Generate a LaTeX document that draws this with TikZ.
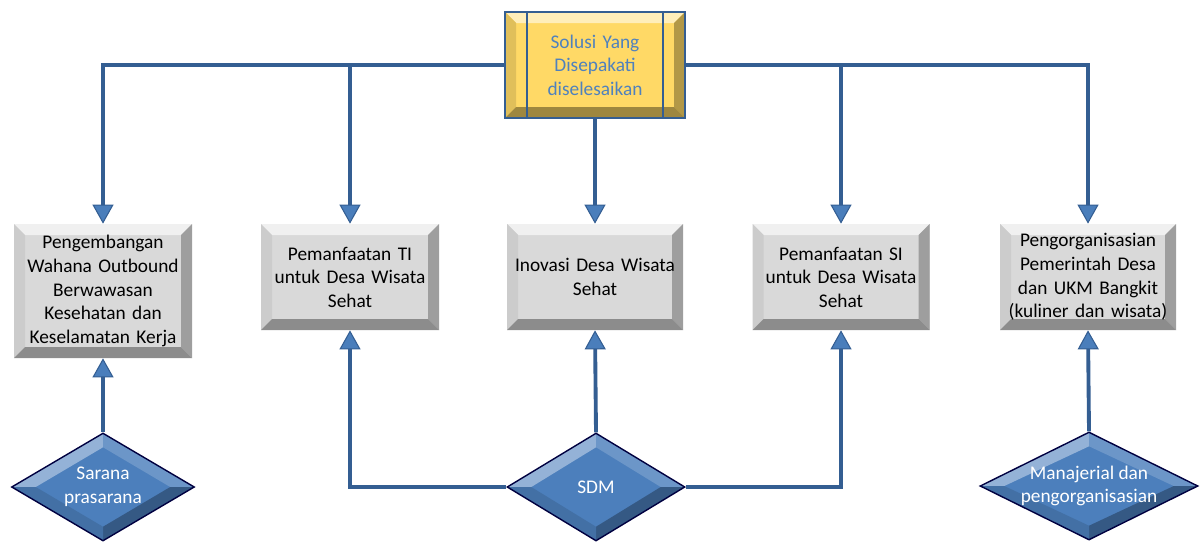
\documentclass[tikz,border=0pt]{standalone}
\usepackage{fontspec}
\setmainfont{Carlito}
\usetikzlibrary{shapes.geometric,arrows.meta}

\definecolor{lineblue}{HTML}{4A7EBB}
\definecolor{linedark}{HTML}{345E92}
\definecolor{textblue}{HTML}{4F81BD}
\definecolor{goldfill}{HTML}{FFD966}
\definecolor{diablue}{HTML}{4C7FBC}

% bevel for rectangles: inset, top, left, right, bottom
\newcommand{\rectbevel}[5]{%
  \fill[#2] (path picture bounding box.north west) -- (path picture bounding box.north east)
    -- ([shift={(-#1,-#1)}]path picture bounding box.north east) -- ([shift={(#1,-#1)}]path picture bounding box.north west) -- cycle;
  \fill[#3] (path picture bounding box.north west) -- (path picture bounding box.south west)
    -- ([shift={(#1,#1)}]path picture bounding box.south west) -- ([shift={(#1,-#1)}]path picture bounding box.north west) -- cycle;
  \fill[#4] (path picture bounding box.north east) -- (path picture bounding box.south east)
    -- ([shift={(-#1,#1)}]path picture bounding box.south east) -- ([shift={(-#1,-#1)}]path picture bounding box.north east) -- cycle;
  \fill[#5] (path picture bounding box.south west) -- (path picture bounding box.south east)
    -- ([shift={(-#1,#1)}]path picture bounding box.south east) -- ([shift={(#1,#1)}]path picture bounding box.south west) -- cycle;
}
% bevel for diamonds: top-left, top-right, bottom-right, bottom-left
\newcommand{\diabevel}[4]{%
  \fill[#1] (path picture bounding box.west) -- (path picture bounding box.north)
    -- ([yshift=-0.28cm]path picture bounding box.north) -- ([xshift=0.48cm]path picture bounding box.west) -- cycle;
  \fill[#2] (path picture bounding box.north) -- (path picture bounding box.east)
    -- ([xshift=-0.48cm]path picture bounding box.east) -- ([yshift=-0.28cm]path picture bounding box.north) -- cycle;
  \fill[#3] (path picture bounding box.east) -- (path picture bounding box.south)
    -- ([yshift=0.28cm]path picture bounding box.south) -- ([xshift=-0.48cm]path picture bounding box.east) -- cycle;
  \fill[#4] (path picture bounding box.south) -- (path picture bounding box.west)
    -- ([xshift=0.48cm]path picture bounding box.west) -- ([yshift=0.28cm]path picture bounding box.south) -- cycle;
}

\tikzstyle{solbox} = [rectangle, fill=black!15, minimum width=3.56cm, minimum height=2.12cm, text width=3.5cm, align=center, inner sep=0pt, font=\fontsize{11}{13.4}\selectfont,
  path picture={\rectbevel{0.22cm}{black!6}{black!20}{black!38}{black!45}}]
\tikzstyle{topbox} = [rectangle, fill=goldfill, draw=linedark, line width=1.2pt, minimum width=3.6cm, minimum height=2.12cm, text width=2.6cm, align=center, inner sep=0pt, text=textblue, font=\fontsize{11}{13.4}\selectfont,
  path picture={\rectbevel{0.22cm}{goldfill!45!white}{goldfill!88!black}{goldfill!70!black}{goldfill!62!black};
    \draw[linedark, line width=1.2pt] ([xshift=0.44cm]path picture bounding box.north west) -- ([xshift=0.44cm]path picture bounding box.south west);
    \draw[linedark, line width=1.2pt] ([xshift=-0.44cm]path picture bounding box.north east) -- ([xshift=-0.44cm]path picture bounding box.south east);}]
\tikzstyle{dia} = [diamond, fill=diablue, draw=black!75!blue, line width=0.8pt, inner sep=0pt, minimum width=3.6cm, minimum height=2.16cm,
  path picture={\diabevel{diablue!60!white}{diablue!82!white}{diablue!70!black}{diablue!88!black}}]
\tikzstyle{diatext} = [text=white, align=center, font=\fontsize{11}{13.4}\selectfont]
\tikzstyle{conn} = [draw=linedark, line width=2.2pt, -{Triangle[width=0.42cm, length=0.38cm, fill=lineblue, line width=0.6pt]}]

\begin{document}
\begin{tikzpicture}
  \useasboundingbox (0,0) rectangle (24.02,10.84);
  % agreed solution on top
  \node (solusi) at (11.9,9.54) [topbox] {Solusi Yang\\Disepakati\\diselesaikan};

  % solution boxes
  \node (outbound) at (2.06,5.02) [solbox, minimum height=2.68cm] {Pengembangan\\Wahana Outbound\\Berwawasan\\Kesehatan dan\\Keselamatan Kerja};
  \node (ti) at (7.0,5.3) [solbox] {Pemanfaatan TI\\untuk Desa Wisata\\Sehat};
  \node (inovasi) at (11.9,5.3) [solbox, minimum width=3.52cm] {Inovasi Desa Wisata\\Sehat};
  \node (si) at (16.82,5.3) [solbox, minimum width=3.54cm] {Pemanfaatan SI\\untuk Desa Wisata\\Sehat};
  \node (ukm) at (21.76,5.3) [solbox, minimum width=3.52cm] {Pengorganisasian\\Pemerintah Desa\\dan UKM Bangkit\\(kuliner dan wisata)};

  % resources
  \node (sarana) at (2.06,1.1) [dia, minimum width=3.66cm, label={[diatext]center:{Sarana\\prasarana}}] {};
  \node (sdm) at (11.92,1.1) [dia, minimum width=3.56cm, label={[diatext]center:SDM}] {};
  \node (manajerial) at (21.78,1.12) [dia, minimum width=4.36cm, label={[diatext]center:{Manajerial dan\\pengorganisasian}}] {};

  % from solusi down
  \draw[conn] (solusi.west) -| (outbound);
  \draw[conn] (solusi.west) -| (ti);
  \draw[conn] (solusi.south) -- (inovasi.north);
  \draw[conn] (solusi.east) -| (si);
  \draw[conn] (solusi.east) -| (ukm);

  % from resources up
  \draw[conn] (sarana.north) -- (outbound.south);
  \draw[conn] (sdm.north) -- (inovasi.south);
  \draw[conn] (sdm.west) -| (ti);
  \draw[conn] (sdm.east) -| (si);
  \draw[conn] (manajerial.north) -- (ukm.south);
\end{tikzpicture}
\end{document}
